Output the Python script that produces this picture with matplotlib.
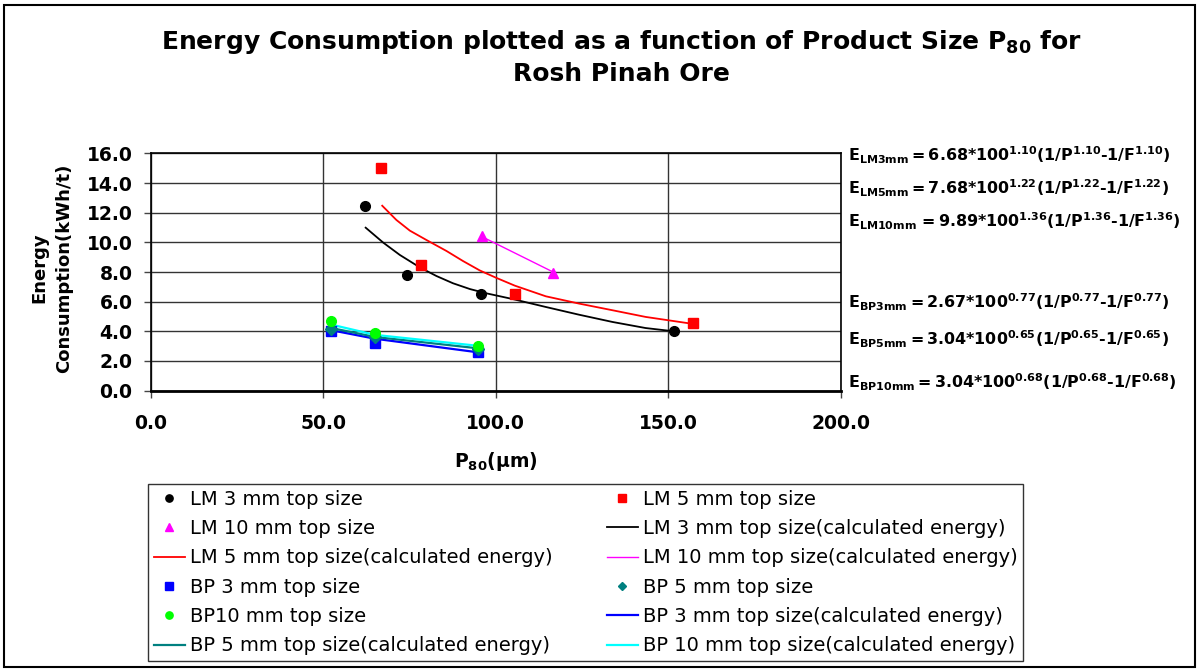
import matplotlib
matplotlib.use("Agg")
import matplotlib.pyplot as plt
from matplotlib.patches import Rectangle
from matplotlib.ticker import FormatStrFormatter

plt.rcParams["font.family"] = ["DejaVu Sans"]
plt.rcParams["mathtext.fontset"] = "dejavusans"

lm3_p = [62.1, 74.2, 95.6, 151.6]
lm3_e = [12.47, 7.80, 6.52, 4.02]
lm5_p = [66.8, 78.3, 105.5, 157.2]
lm5_e = [15.03, 8.47, 6.50, 4.54]
lm10_p = [96.0, 116.6]
lm10_e = [10.43, 7.96]
bp3_p = [52.4, 65.0, 94.9]
bp3_e = [4.02, 3.21, 2.60]
bp5_p = [52.4, 65.0, 94.9]
bp5_e = [4.16, 3.60, 2.78]
bp10_p = [52.4, 65.0, 94.9]
bp10_e = [4.67, 3.88, 3.01]

# calculated-energy curves
lm3c_p = [62.3, 67.4, 72.2, 78.0, 82.8, 87.6, 92.5, 97.3, 104.8, 114.5, 124.1, 133.8, 143.4, 151.6]
lm3c_e = [10.99, 9.98, 9.15, 8.31, 7.73, 7.24, 6.85, 6.56, 6.18, 5.64, 5.12, 4.63, 4.22, 4.00]
lm5c_p = [67.1, 71.2, 75.1, 79.9, 85.7, 90.5, 95.4, 100.2, 105.5, 114.5, 124.1, 133.8, 143.4, 156.5]
lm5c_e = [12.47, 11.51, 10.79, 10.16, 9.42, 8.74, 8.10, 7.60, 7.08, 6.36, 5.87, 5.42, 4.97, 4.52]
lm10c_p = [96.0, 116.6]
lm10c_e = [10.38, 8.00]
bp3c_p = [52.4, 65.0, 94.9]
bp3c_e = [4.07, 3.50, 2.58]
bp5c_p = [52.4, 65.0, 94.9]
bp5c_e = [4.22, 3.62, 2.85]
bp10c_p = [52.4, 65.0, 94.9]
bp10c_e = [4.45, 3.76, 3.02]

x_ticks = [0, 50, 100, 150, 200]
y_ticks = [0, 2, 4, 6, 8, 10, 12, 14, 16]

equations = [
    r"$\mathbf{E_{LM3mm} = 6.68{*}100^{1.10}(1/P^{1.10}‐1/F^{1.10})}$",
    r"$\mathbf{E_{LM5mm} = 7.68{*}100^{1.22}(1/P^{1.22}‐1/F^{1.22})}$",
    r"$\mathbf{E_{LM10mm}\,{=}9.89{*}100^{1.36}(1/P^{1.36}‐1/F^{1.36})}$",
    r"$\mathbf{E_{BP3mm} = 2.67{*}100^{0.77}(1/P^{0.77}‐1/F^{0.77})}$",
    r"$\mathbf{E_{BP5mm} = 3.04{*}100^{0.65}(1/P^{0.65}‐1/F^{0.65})}$",
    r"$\mathbf{E_{BP10mm} = 3.04{*}100^{0.68}(1/P^{0.68}‐1/F^{0.68})}$",
]
eq_y = [155, 188, 221, 302, 339, 382]

W, H = 1199, 670
fig = plt.figure(figsize=(W / 100, H / 100), dpi=100)
ax = fig.add_axes([150.6 / W, 1 - 390.6 / H, 690.4 / W, 237.2 / H])

ms = 7
h = {}
h["lm3"], = ax.plot(lm3_p, lm3_e, "o", color="black", ms=ms, ls="none", zorder=5)
h["lm5"], = ax.plot(lm5_p, lm5_e, "s", color="#FF0000", ms=ms, ls="none", zorder=5)
h["lm10"], = ax.plot(lm10_p, lm10_e, "^", color="#FF00FF", ms=ms, ls="none", zorder=5)
h["lm3c"], = ax.plot(lm3c_p, lm3c_e, "-", color="black", lw=1.3, zorder=4)
h["lm5c"], = ax.plot(lm5c_p, lm5c_e, "-", color="#FF0000", lw=1.3, zorder=4)
h["lm10c"], = ax.plot(lm10c_p, lm10c_e, "-", color="#FF00FF", lw=1.0, zorder=4)
h["bp3"], = ax.plot(bp3_p, bp3_e, "s", color="#0000FF", ms=ms, ls="none", zorder=5)
h["bp5"], = ax.plot(bp5_p, bp5_e, "D", color="#008080", ms=ms - 1, ls="none", zorder=5)
h["bp10"], = ax.plot(bp10_p, bp10_e, "o", color="#00FF00", ms=ms, ls="none", zorder=6)
h["bp3c"], = ax.plot(bp3c_p, bp3c_e, "-", color="#0000FF", lw=1.6, zorder=4)
h["bp5c"], = ax.plot(bp5c_p, bp5c_e, "-", color="#008080", lw=1.6, zorder=4)
h["bp10c"], = ax.plot(bp10c_p, bp10c_e, "-", color="#00FFFF", lw=1.6, zorder=4)

ax.set_xlim(0, 200)
ax.set_ylim(0, 16)
ax.set_xticks(x_ticks)
ax.set_yticks(y_ticks)
ax.xaxis.set_major_formatter(FormatStrFormatter("%.1f"))
ax.yaxis.set_major_formatter(FormatStrFormatter("%.1f"))
ax.tick_params(direction="out", length=5, width=1, color="#444444", labelsize=13.5)
ax.tick_params(axis="x", pad=12)
ax.tick_params(axis="y", pad=8)
for lbl in ax.get_xticklabels() + ax.get_yticklabels():
    lbl.set_fontweight("bold")
ax.grid(True, color="#333333", lw=1)
ax.set_axisbelow(True)
for s in ax.spines.values():
    s.set_color("black")
    s.set_linewidth(1.2)
ax.spines["bottom"].set_linewidth(2)

ax.set_xlabel(r"$\mathbf{P_{80}}$(µm)", fontsize=13.5, fontweight="bold", labelpad=12)
fig.text(52 / W, 1 - 268 / H, "Energy\nConsumption(kWh/t)", rotation=90, ha="center",
         va="center", multialignment="center", fontsize=13, fontweight="bold", linespacing=1.45)

fig.text(621 / W, 1 - 57 / H,
         "Energy Consumption plotted as a function of Product Size " + r"$\mathbf{P_{80}}$" + " for\nRosh Pinah Ore",
         ha="center", va="center", fontsize=18, fontweight="bold", linespacing=1.35)

for eq, y in zip(equations, eq_y):
    fig.text(848 / W, 1 - y / H, eq, ha="left", va="center", fontsize=11.4)

order = ["lm3", "lm10", "lm5c", "bp3", "bp10", "bp5c",
         "lm5", "lm3c", "lm10c", "bp5", "bp3c", "bp10c"]
labels = {
    "lm3": "LM 3 mm top size", "lm5": "LM 5 mm top size", "lm10": "LM 10 mm top size",
    "lm3c": "LM 3 mm top size(calculated energy)", "lm5c": "LM 5 mm top size(calculated energy)",
    "lm10c": "LM 10 mm top size(calculated energy)",
    "bp3": "BP 3 mm top size", "bp5": "BP 5 mm top size", "bp10": "BP10 mm top size",
    "bp3c": "BP 3 mm top size(calculated energy)", "bp5c": "BP 5 mm top size(calculated energy)",
    "bp10c": "BP 10 mm top size(calculated energy)",
}
leg = fig.legend([h[k] for k in order], [labels[k] for k in order], ncol=2,
                 loc="upper left", bbox_to_anchor=(148 / W, 1 - 484 / H), borderaxespad=0,
                 fontsize=14, frameon=True, fancybox=False, edgecolor="black",
                 borderpad=0.3, labelspacing=0.53, handlelength=1.6, handletextpad=0.25,
                 columnspacing=2.8, markerscale=0.75, numpoints=1)
leg.get_frame().set_linewidth(1)

fig.patches.append(Rectangle((4 / W, 3 / H), 1191 / W, 662 / H, transform=fig.transFigure,
                             fill=False, edgecolor="black", lw=1.5))

fig.savefig("out.png", dpi=100)
